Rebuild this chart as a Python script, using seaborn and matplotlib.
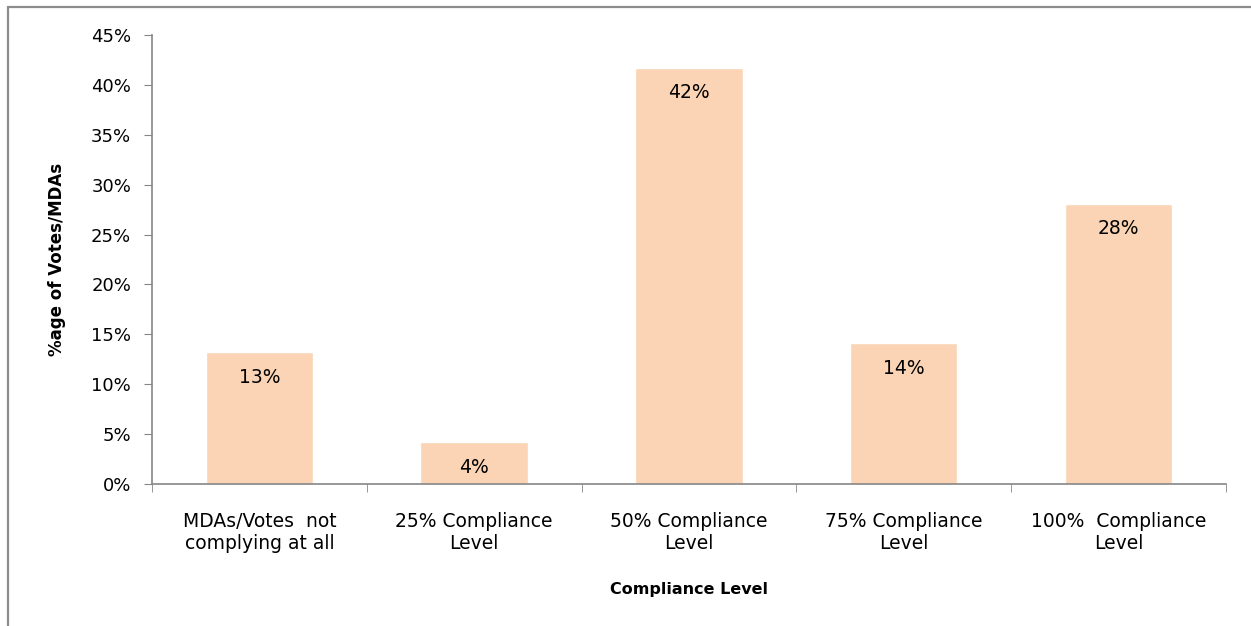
import matplotlib
matplotlib.use("Agg")
import matplotlib.pyplot as plt
from matplotlib.lines import Line2D
from matplotlib.ticker import FixedLocator
import seaborn as sns
import pandas as pd

# Data
levels = ["MDAs/Votes  not\ncomplying at all", "25% Compliance\nLevel",
          "50% Compliance\nLevel", "75% Compliance\nLevel",
          "100%  Compliance\nLevel"]
shares = [13.2, 4.2, 41.7, 14.1, 28.1]
value_labels = ["13%", "4%", "42%", "14%", "28%"]
y_ticks = [0, 5, 10, 15, 20, 25, 30, 35, 40, 45]

df = pd.DataFrame({"Level": levels, "Share": shares})

sns.set_style("white")
plt.rcParams['font.family'] = ['DejaVu Sans']
plt.rcParams['text.color'] = 'black'
plt.rcParams['axes.labelcolor'] = 'black'
plt.rcParams['xtick.color'] = 'black'
plt.rcParams['ytick.color'] = 'black'

fig = plt.figure(figsize=(12.51, 6.26), dpi=100)
ax = fig.add_axes([0.1215, 0.2268, 0.8585, 0.7173])

sns.barplot(data=df, x="Level", y="Share", color="#FAD4B4", width=0.5,
            saturation=1, ax=ax)

# value labels just inside the top of each bar
for i, (v, lab) in enumerate(zip(shares, value_labels)):
    ax.text(i, v - 2.5, lab, ha="center", va="center", fontsize=13.5, color="black")

ax.set_ylim(0, 45)
ax.set_xlim(-0.5, len(levels) - 0.5)
ax.set_yticks(y_ticks)
ax.set_yticklabels([f"{t}%" for t in y_ticks], fontsize=13)
ax.tick_params(axis="y", length=6, color="#868686", pad=9, left=True)

# category ticks sit between the bars
ax.tick_params(axis="x", which="major", length=0, labelsize=13.5, pad=20)
ax.xaxis.set_minor_locator(FixedLocator([i - 0.5 for i in range(len(levels) + 1)]))
ax.tick_params(axis="x", which="minor", length=6, color="#868686", bottom=True)

for side in ["top", "right"]:
    ax.spines[side].set_visible(False)
for side in ["left", "bottom"]:
    ax.spines[side].set_color("#868686")
    ax.spines[side].set_linewidth(1.2)

ax.set_xlabel("Compliance Level", fontsize=11.5, fontweight="bold", labelpad=21)
ax.set_ylabel("%age of Votes/MDAs", fontsize=12, fontweight="bold", labelpad=18,
              family=["Liberation Sans Narrow", "DejaVu Sans"])

# outer chart-area frame, cropped at right and bottom
fig.add_artist(Line2D([8 / 1251, 8 / 1251], [0, 1 - 7 / 626], transform=fig.transFigure,
                      color="#8c8c8c", lw=1.6))
fig.add_artist(Line2D([8 / 1251, 1], [1 - 7 / 626, 1 - 7 / 626], transform=fig.transFigure,
                      color="#8c8c8c", lw=1.6))

fig.savefig("out.png", dpi=100)
plt.close(fig)
